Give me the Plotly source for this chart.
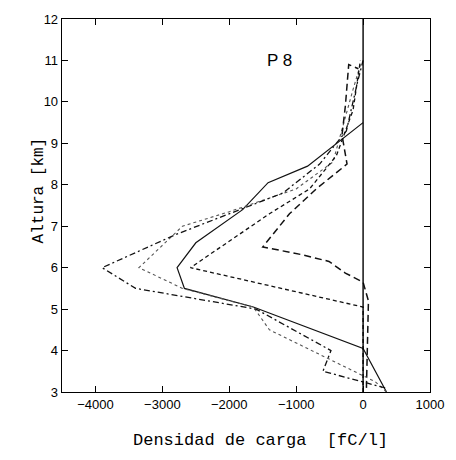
import plotly.graph_objects as go

# Profiles (charge density fC/l vs altitude km)
solid_x = [350, 0, -1640, -2670, -2780, -2500, -1800, -1420, -830, 0]
solid_y = [3.0, 4.05, 5.05, 5.5, 6.0, 6.6, 7.4, 8.05, 8.45, 9.5]

dotted_x = [350, 180, -1400, -1640, -2700, -3350, -2700, -2000, -1000, -450, -150, -40]
dotted_y = [3.0, 3.25, 4.5, 5.05, 5.5, 6.0, 7.0, 7.35, 7.9, 8.55, 10.3, 10.9]

dashdot_x = [330, -600, -480, -1600, -3400, -3900, -2800, -2000, -1200, -650, -250, -80, 0]
dashdot_y = [3.1, 3.5, 4.0, 5.0, 5.5, 6.0, 6.8, 7.3, 7.8, 8.5, 9.3, 10.5, 11.0]

longdash_x = [50, 80, 0, -265, -510, -905, -1500, -1100, -700, -240, -315, -265, -215, -70]
longdash_y = [3.1, 5.2, 5.65, 5.87, 6.15, 6.31, 6.5, 7.3, 7.9, 8.5, 9.2, 9.9, 10.9, 10.8]

shortdash_x = [0, 0, -2580, -2035, -1400, -800, -400, -150, -40]
shortdash_y = [3.0, 5.05, 6.0, 6.6, 7.3, 7.9, 8.7, 9.8, 11.0]

zero_x = [0, 0]
zero_y = [3, 12]

x_ticks = [-4000, -3000, -2000, -1000, 0, 1000]
x_tick_labels = ["\u22124000", "\u22123000", "\u22122000", "\u22121000", "0", "1000"]
y_ticks = [3, 4, 5, 6, 7, 8, 9, 10, 11, 12]

fig = go.Figure()
styles = [
    (solid_x, solid_y, "solid", 1.2, "#111"),
    (dotted_x, dotted_y, "dot", 1.1, "#555"),
    (dashdot_x, dashdot_y, "6px,3px,2px,3px", 1.3, "#111"),
    (longdash_x, longdash_y, "7px,4px", 1.5, "#111"),
    (shortdash_x, shortdash_y, "4px,3px", 1.3, "#111"),
    (zero_x, zero_y, "solid", 1.4, "#000"),
]
for xs, ys, dash, w, c in styles:
    fig.add_trace(go.Scatter(x=xs, y=ys, mode="lines",
                             line=dict(color=c, width=w, dash=dash),
                             showlegend=False, hoverinfo="skip"))

axis_common = dict(showgrid=False, zeroline=False, showline=True, linecolor="#000",
                   linewidth=1.3, mirror="ticks", ticks="inside", ticklen=6,
                   tickcolor="#000", tickfont=dict(family="Liberation Sans", size=13, color="#000"))
fig.update_xaxes(range=[-4500, 1000], tickvals=x_ticks, ticktext=x_tick_labels, **axis_common)
fig.update_yaxes(range=[3, 12], tickvals=y_ticks, **axis_common)

fig.add_annotation(x=-1250, y=11.0, text="P 8", showarrow=False,
                   font=dict(family="Liberation Sans", size=17, color="#000"))
fig.add_annotation(x=0.539, y=-0.13, xref="paper", yref="paper", xanchor="center", yanchor="middle",
                   text="Densidad de carga  [fC/l]", showarrow=False,
                   font=dict(family="Liberation Mono", size=17, color="#000"))
fig.add_annotation(x=-0.062, y=0.541, xref="paper", yref="paper", xanchor="center", yanchor="middle",
                   text="Altura [km]", textangle=-90, showarrow=False,
                   font=dict(family="Liberation Mono", size=16, color="#000"))

fig.update_layout(width=456, height=460, margin=dict(l=62, r=21, t=15, b=68),
                  plot_bgcolor="white", paper_bgcolor="white")
fig.write_html("out.html", config={"displayModeBar": False, "staticPlot": True},
               post_script="document.body.style.margin='0';")
